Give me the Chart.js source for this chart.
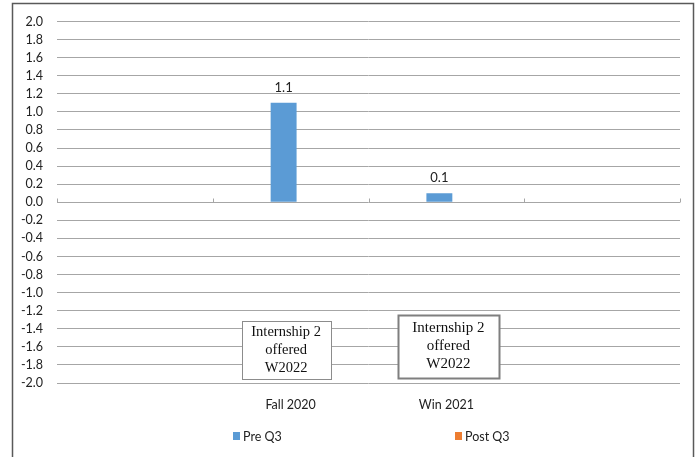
<!DOCTYPE html>
<html lang="en">
<head>
    <meta charset="UTF-8" />
    <title>Pre Q3 / Post Q3</title>
    <script src="https://cdn.jsdelivr.net/npm/chart.js"></script>
    <style>
        html, body { margin: 0; padding: 0; background: #fff; }
        #wrap { width: 699px; height: 457px; position: relative; }
    </style>
</head>
<body>
    <div id="wrap"><canvas id="qChart"></canvas></div>

    <script>
        // Terms on the x axis (empty slots on both sides)
        const terms = ['', 'Fall 2020', 'Win 2021', ''];
        const preQ3 = [null, 1.1, 0.1, null];
        const postQ3 = [null, null, null, null];
        const yMin = -2.0, yMax = 2.0, yStep = 0.2;

        // Text boxes under the two terms
        const noteLines = ['Internship 2', 'offered', 'W2022'];
        const noteTerms = ['Fall 2020', 'Win 2021'];

        const BLUE = '#5b9bd5';
        const ORANGE = '#ed7d31';
        const GRID = '#a6a6a6';
        const TEXT = '#222';
        const uiFont = 'Lato, "Open Sans", sans-serif';

        // Frame, zero-line ticks, value labels, note boxes and legend
        const extras = {
            id: 'extras',
            afterDraw(chart) {
                const ctx = chart.ctx;
                const x = chart.scales.x, y = chart.scales.y;
                const y0 = Math.round(y.getPixelForValue(0)) + 0.5;
                ctx.save();

                // outer frame
                ctx.strokeStyle = '#595959';
                ctx.lineWidth = 1.5;
                ctx.strokeRect(12.5, 3.5, 681, 470);

                // small ticks on the zero line between categories
                const half = (x.getPixelForValue(1) - x.getPixelForValue(0)) / 2;
                ctx.strokeStyle = GRID;
                ctx.lineWidth = 1;
                for (let i = 0; i <= terms.length; i++) {
                    const px = Math.round(x.getPixelForValue(i) - half) + 0.5;
                    ctx.beginPath();
                    ctx.moveTo(px, y0);
                    ctx.lineTo(px, y0 - 4);
                    ctx.stroke();
                }

                // value labels above Pre Q3 bars
                ctx.fillStyle = TEXT;
                ctx.font = '13px ' + uiFont;
                ctx.textAlign = 'center';
                ctx.textBaseline = 'middle';
                chart.getDatasetMeta(0).data.forEach((bar, i) => {
                    const v = preQ3[i];
                    if (v === null) return;
                    ctx.fillText(v.toFixed(1), bar.x, bar.y - 15);
                });

                // note boxes
                const boxes = [
                    { w: 89, top: -1.31, bottom: -1.96, dx: -4.5, lw: 1, color: '#8c8c8c', size: 14.5 },
                    { w: 101, top: -1.25, bottom: -1.95, dx: 2, lw: 2, color: '#7f7f7f', size: 15 }
                ];
                noteTerms.forEach((t, k) => {
                    const b = boxes[k];
                    const cx = x.getPixelForValue(terms.indexOf(t)) + b.dx;
                    const top = Math.round(y.getPixelForValue(b.top));
                    const bot = Math.round(y.getPixelForValue(b.bottom));
                    const left = Math.round(cx - b.w / 2);
                    ctx.fillStyle = '#fff';
                    ctx.fillRect(left, top, b.w, bot - top);
                    ctx.strokeStyle = b.color;
                    ctx.lineWidth = b.lw;
                    ctx.strokeRect(left + 0.5, top + 0.5, b.w, bot - top);
                    ctx.fillStyle = '#111';
                    ctx.font = b.size + 'px "Liberation Serif", serif';
                    ctx.textBaseline = 'middle';
                    const mid = (top + bot) / 2;
                    noteLines.forEach((line, j) => {
                        ctx.fillText(line, cx, mid + (j - 1) * 18);
                    });
                });

                // legend
                ctx.font = '12.5px ' + uiFont;
                ctx.textAlign = 'left';
                ctx.textBaseline = 'middle';
                const legend = [
                    { label: chart.data.datasets[0].label, color: BLUE, x: 233 },
                    { label: chart.data.datasets[1].label, color: ORANGE, x: 455 }
                ];
                legend.forEach(item => {
                    ctx.fillStyle = item.color;
                    ctx.fillRect(item.x, 432, 7, 8);
                    ctx.fillStyle = TEXT;
                    ctx.fillText(item.label, item.x + 10, 436.5);
                });

                ctx.restore();
            }
        };

        const ctx = document.getElementById('qChart').getContext('2d');
        new Chart(ctx, {
            type: 'bar',
            data: {
                labels: terms,
                datasets: [
                    { label: 'Pre Q3', data: preQ3, backgroundColor: BLUE,
                      categoryPercentage: 0.18, barPercentage: 1.85 },
                    { label: 'Post Q3', data: postQ3, backgroundColor: ORANGE,
                      categoryPercentage: 0.18, barPercentage: 1.85 }
                ]
            },
            options: {
                responsive: true,
                maintainAspectRatio: false,
                animation: false,
                layout: { padding: { top: 19, right: 19, left: 0, bottom: 0 } },
                plugins: {
                    legend: { display: false },
                    tooltip: { enabled: false }
                },
                scales: {
                    x: {
                        grid: { display: false },
                        border: { display: false },
                        ticks: {
                            color: TEXT,
                            font: { family: uiFont, size: 12.5 },
                            padding: 6
                        },
                        afterFit(scale) { scale.height = 74; }
                    },
                    y: {
                        min: yMin,
                        max: yMax,
                        grid: { color: GRID, drawTicks: false },
                        border: { display: false },
                        ticks: {
                            stepSize: yStep,
                            padding: 14,
                            color: TEXT,
                            font: { family: uiFont, size: 12.5 },
                            callback: v => v.toFixed(1)
                        },
                        afterFit(scale) { scale.width = 57; }
                    }
                }
            },
            plugins: [extras]
        });
    </script>
</body>
</html>
